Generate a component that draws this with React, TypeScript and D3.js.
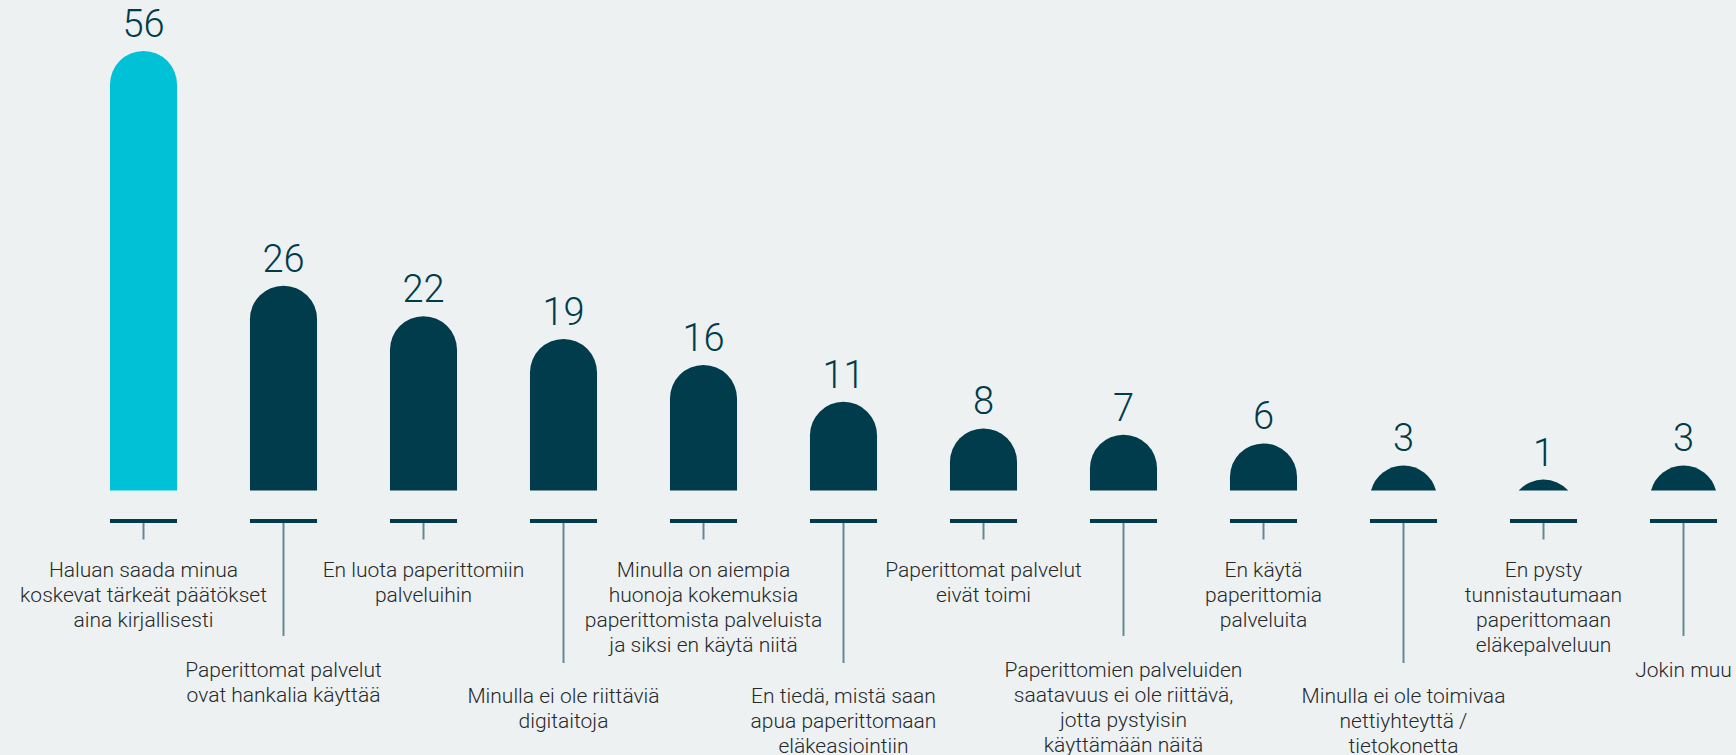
import React, { useEffect, useRef } from "react";
import * as d3 from "d3";

// survey answers, % of respondents
const categories = [
  "Haluan saada minua koskevat tärkeät päätökset aina kirjallisesti",
  "Paperittomat palvelut ovat hankalia käyttää",
  "En luota paperittomiin palveluihin",
  "Minulla ei ole riittäviä digitaitoja",
  "Minulla on aiempia huonoja kokemuksia paperittomista palveluista ja siksi en käytä niitä",
  "En tiedä, mistä saan apua paperittomaan eläkeasiointiin",
  "Paperittomat palvelut eivät toimi",
  "Paperittomien palveluiden saatavuus ei ole riittävä, jotta pystyisin käyttämään näitä",
  "En käytä paperittomia palveluita",
  "Minulla ei ole toimivaa nettiyhteyttä / tietokonetta",
  "En pysty tunnistautumaan paperittomaan eläkepalveluun",
  "Jokin muu",
];

const values = [56, 26.1, 22.2, 19.3, 16, 11.3, 7.9, 7.1, 6, 3.2, 1.4, 3.2];

const labelLines = [
  ["Haluan saada minua", "koskevat tärkeät päätökset", "aina kirjallisesti"],
  ["Paperittomat palvelut", "ovat hankalia käyttää"],
  ["En luota paperittomiin", "palveluihin"],
  ["Minulla ei ole riittäviä", "digitaitoja"],
  ["Minulla on aiempia", "huonoja kokemuksia", "paperittomista palveluista", "ja siksi en käytä niitä"],
  ["En tiedä, mistä saan", "apua paperittomaan", "eläkeasiointiin"],
  ["Paperittomat palvelut", "eivät toimi"],
  ["Paperittomien palveluiden", "saatavuus ei ole riittävä,", "jotta pystyisin", "käyttämään näitä"],
  ["En käytä", "paperittomia", "palveluita"],
  ["Minulla ei ole toimivaa", "nettiyhteyttä /", "tietokonetta"],
  ["En pysty", "tunnistautumaan", "paperittomaan", "eläkepalveluun"],
  ["Jokin muu"],
];

// which row the label hangs on (0 = top row)
const labelRow = [0, 1, 0, 2, 0, 2, 0, 1, 0, 2, 0, 1];

const highlighted = [0];

const capPath = (x0: number, w: number, top: number, base: number) => {
  const r = w / 2;
  const h = base - top;
  if (h >= r) {
    return `M${x0},${base}V${top + r}A${r},${r} 0 0 1 ${x0 + w},${top + r}V${base}Z`;
  }
  const cx = x0 + r;
  const d = r - h;
  const c = Math.sqrt(r * r - d * d);
  return `M${cx - c},${base}A${r},${r} 0 0 1 ${cx + c},${base}Z`;
};

const App = () => {
  const ref = useRef<SVGSVGElement>(null);

  useEffect(() => {
    document.body.style.margin = "0";
    const width = 1736;
    const height = 755;
    const base = 490.5;
    const svg = d3.select(ref.current);
    svg.selectAll("*").remove();

    svg
      .append("rect")
      .attr("width", width)
      .attr("height", height)
      .attr("fill", "#edf1f2");

    const x = d3
      .scaleBand()
      .domain(categories)
      .range([73.5, 73.5 + 12 * 140])
      .paddingInner(0.521)
      .paddingOuter(0.2605);

    const y = d3.scaleLinear().domain([0, 56]).range([base, 51]);
    const bw = x.bandwidth();

    const g = svg
      .selectAll("g.item")
      .data(categories)
      .enter()
      .append("g")
      .attr("class", "item");

    g.append("path")
      .attr("d", (d, i) => capPath(x(d)!, bw, y(values[i]), base))
      .attr("fill", (d, i) => (highlighted.includes(i) ? "#00c1d5" : "#003c4b"));

    g.append("text")
      .attr("x", (d) => x(d)! + bw / 2)
      .attr("y", (d, i) => y(values[i]) - 14)
      .attr("text-anchor", "middle")
      .attr("font-family", "Roboto, sans-serif")
      .attr("font-weight", 300)
      .attr("font-size", 38)
      .attr("fill", "#003c4b")
      .text((d, i) => d3.format(".0f")(values[i]));

    // baseline tick under each bar
    g.append("rect")
      .attr("x", (d) => x(d)!)
      .attr("y", 519)
      .attr("width", bw)
      .attr("height", 4)
      .attr("fill", "#003c4b");

    const stemEnd = [539.5, 636, 663];
    const firstLine = [577, 677, 703];

    g.append("line")
      .attr("x1", (d) => x(d)! + bw / 2)
      .attr("x2", (d) => x(d)! + bw / 2)
      .attr("y1", 523)
      .attr("y2", (d, i) => stemEnd[labelRow[i]])
      .attr("stroke", "#5f8a96")
      .attr("stroke-width", 2);

    g.append("text")
      .attr("text-anchor", "middle")
      .attr("font-family", "Roboto, sans-serif")
      .attr("font-weight", 300)
      .attr("font-size", 21)
      .attr("fill", "#26292b")
      .each(function (d, i) {
        const t = d3.select(this);
        labelLines[i].forEach((line, j) => {
          t.append("tspan")
            .attr("x", x(d)! + bw / 2)
            .attr("y", firstLine[labelRow[i]] + j * 25)
            .text(line);
        });
      });
  }, []);

  return <svg ref={ref} width={1736} height={755} style={{ display: "block" }}></svg>;
};

export default App;
